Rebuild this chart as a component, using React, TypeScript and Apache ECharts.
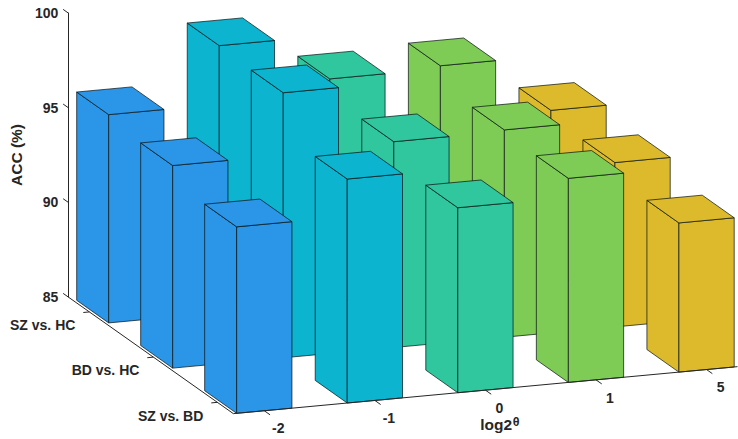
import React, { useEffect, useRef } from 'react';
import * as echarts from 'echarts';

// ---- data ----
const thetaLabels = ['-2', '-1', '0', '1', '5'];
const groupLabels = ['SZ vs. HC', 'BD vs. HC', 'SZ vs. BD'];
const accSZvsHC = [96.0, 99.1, 96.8, 96.95, 94.05];
const accBDvsHC = [95.7, 99.0, 95.87, 95.95, 93.68];
const accSZvsBD = [94.85, 96.83, 94.77, 95.78, 92.88];
const accByGroup = [accSZvsHC, accBDvsHC, accSZvsBD];
const zTickValues = [85, 90, 95, 100];

// ---- styling ----
const columnColors = ['#2B95E8', '#0CB4D0', '#30C69E', '#7ECB55', '#DDBA2B'];
const TEXT = '#262626';
const EDGE = 'rgba(10,20,20,0.8)';
const FONT = "'Liberation Sans', Arial, Helvetica, sans-serif";

// ---- view (oblique projection of the 3D box) ----
const Z_MIN = 85;
const Z_MAX = 100;
const C0 = -0.28, C1 = 4.28, R0 = -0.33, R1 = 2.25;
const CX = 111.1, CY = 10.3, RX = 64.3, RY = 45.2, ZPX = 18.93;
const HALF = 0.25;

function toValue(c: number, r: number, z: number): number[] {
  const dc = c - C0;
  const dr = r - R0;
  return [CX * dc + RX * dr, z + (CY * dc - RY * dr) / ZPX];
}

export default function App() {
  const ref = useRef<HTMLDivElement>(null);

  useEffect(() => {
    if (!ref.current) return;
    const chart = echarts.init(ref.current, undefined, { renderer: 'svg' });

    // painter's order: back rows first, far (right) columns first
    const barData: number[][] = [];
    for (let r = 0; r < groupLabels.length; r++) {
      for (let c = thetaLabels.length - 1; c >= 0; c--) {
        barData.push([c, r, accByGroup[r][c]]);
      }
    }

    const option: any = {
      animation: false,
      grid: { left: 65, top: 13, width: 673, height: 284 },
      xAxis: { type: 'value', min: 0, max: 673, show: false },
      yAxis: {
        type: 'value',
        min: Z_MIN,
        max: Z_MAX,
        interval: 5,
        axisLine: { show: true, onZero: false, lineStyle: { color: TEXT, width: 1 } },
        axisTick: { show: false },
        splitLine: { show: false },
        axisLabel: {
          color: TEXT,
          fontSize: 14,
          fontWeight: 'bold',
          fontFamily: FONT,
          margin: 10,
          padding: [0, 0, 6, 0],
        },
        name: 'ACC (%)',
        nameLocation: 'middle',
        nameRotate: 90,
        nameGap: 40,
        nameTextStyle: { color: TEXT, fontSize: 15.5, fontWeight: 'bold', fontFamily: FONT },
      },
      series: [
        {
          type: 'custom',
          clip: false,
          silent: true,
          data: barData,
          renderItem: (params: any, api: any) => {
            const c = api.value(0);
            const r = api.value(1);
            const z = api.value(2);
            const P = (cc: number, rr: number, zz: number) => api.coord(toValue(cc, rr, zz));
            const l = c - HALF, rt = c + HALF, b = r - HALF, f = r + HALF;
            const style = { fill: columnColors[c], stroke: EDGE, lineWidth: 0.9, lineJoin: 'round' };
            return {
              type: 'group',
              children: [
                { type: 'polygon', shape: { points: [P(l, b, Z_MIN), P(l, f, Z_MIN), P(l, f, z), P(l, b, z)] }, style },
                { type: 'polygon', shape: { points: [P(l, f, Z_MIN), P(rt, f, Z_MIN), P(rt, f, z), P(l, f, z)] }, style },
                { type: 'polygon', shape: { points: [P(l, b, z), P(rt, b, z), P(rt, f, z), P(l, f, z)] }, style },
              ],
            };
          },
        },
        {
          type: 'custom',
          clip: false,
          silent: true,
          data: [[0]],
          renderItem: (params: any, api: any) => {
            const P = (cc: number, rr: number, zz: number) => api.coord(toValue(cc, rr, zz));
            const children: any[] = [];
            const lineStyle = { stroke: TEXT, lineWidth: 1 };
            const seg = (a: number[], b: number[]) => ({
              type: 'line',
              shape: { x1: a[0], y1: a[1], x2: b[0], y2: b[1] },
              style: lineStyle,
            });
            // floor axis lines
            children.push(seg(P(C0, R0, Z_MIN), P(C0, R1, Z_MIN)));
            children.push(seg(P(C0, R1, Z_MIN), P(C1, R1, Z_MIN)));
            // z ticks (slanted)
            zTickValues.forEach((z) => children.push(seg(P(C0, R0, z), P(C0, R0 - 0.08, z))));
            // row ticks and labels
            groupLabels.forEach((g, r) => {
              const p = P(C0, r, Z_MIN);
              children.push(seg(p, P(C0 - 0.055, r, Z_MIN)));
              children.push({
                type: 'text',
                x: p[0] - 14,
                y: p[1] + 13.3,
                style: {
                  text: g, fill: TEXT, fontSize: 14, fontWeight: 'bold', fontFamily: FONT,
                  align: 'right', verticalAlign: 'middle',
                },
              });
            });
            // column ticks and labels
            thetaLabels.forEach((t, c) => {
              const p = P(c, R1, Z_MIN);
              children.push(seg(p, P(c, R1 + 0.09, Z_MIN)));
              children.push({
                type: 'text',
                x: p[0] + 14,
                y: p[1] + 17.7,
                style: {
                  text: t, fill: TEXT, fontSize: 14, fontWeight: 'bold', fontFamily: FONT,
                  align: 'center', verticalAlign: 'middle',
                },
              });
            });
            // x-axis title: log2^θ
            const m = P((C0 + C1) / 2, R1, Z_MIN);
            children.push({
              type: 'text',
              x: m[0] - 5.2,
              y: m[1] + 34.5,
              style: {
                text: 'log2', fill: TEXT, fontSize: 15.5, fontWeight: 'bold', fontFamily: FONT,
                align: 'left', verticalAlign: 'middle',
              },
            });
            children.push({
              type: 'text',
              x: m[0] + 27.3,
              y: m[1] + 32.3,
              style: {
                text: 'θ', fill: TEXT, fontSize: 12.5, fontWeight: 'bold', fontFamily: FONT,
                align: 'left', verticalAlign: 'middle',
              },
            });
            return { type: 'group', children };
          },
        },
      ],
    };

    chart.setOption(option);
    return () => chart.dispose();
  }, []);

  return (
    <div
      ref={ref}
      style={{ position: 'fixed', left: 0, top: 0, width: 738, height: 439, background: '#ffffff' }}
    />
  );
}
